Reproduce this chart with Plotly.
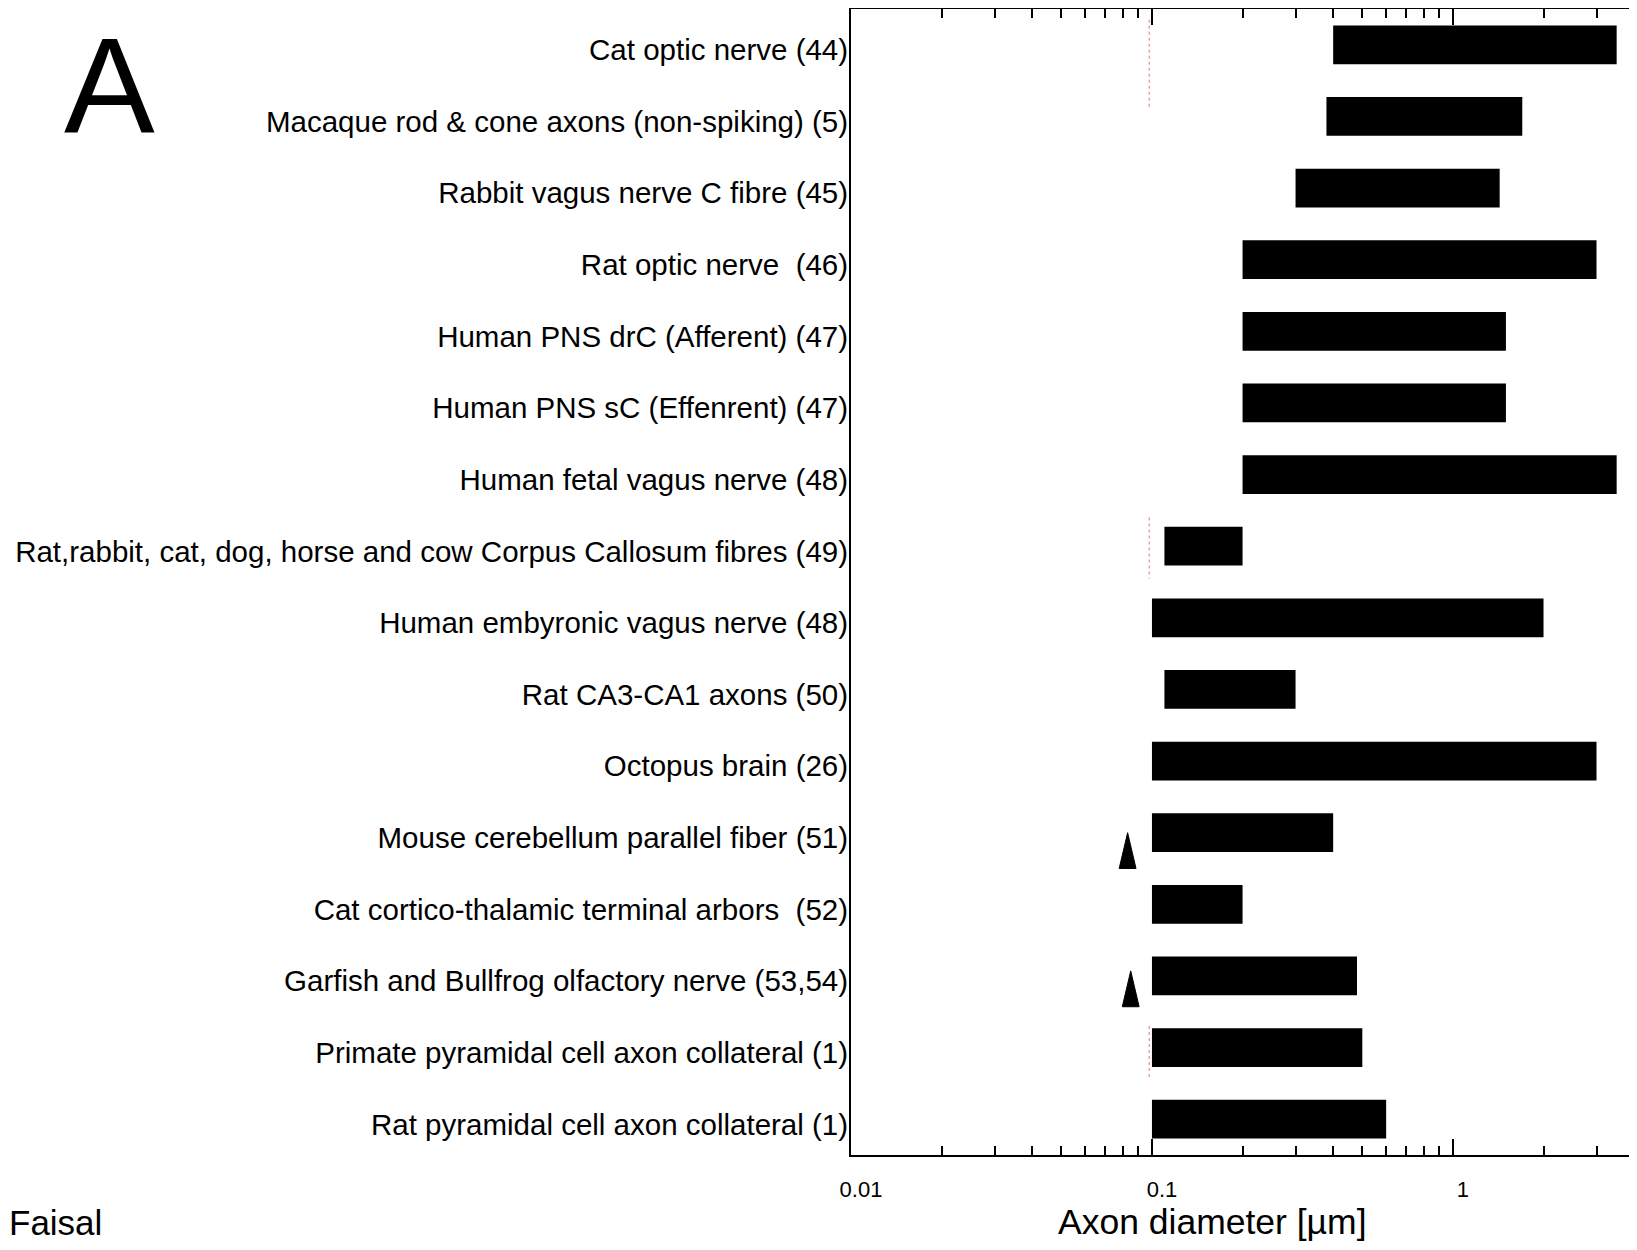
import plotly.graph_objects as go

categories = [
    "Cat optic nerve (44)",
    "Macaque rod & cone axons (non-spiking) (5)",
    "Rabbit vagus nerve C fibre (45)",
    "Rat optic nerve  (46)",
    "Human PNS drC (Afferent) (47)",
    "Human PNS sC (Effenrent) (47)",
    "Human fetal vagus nerve (48)",
    "Rat,rabbit, cat, dog, horse and cow Corpus Callosum fibres (49)",
    "Human embyronic vagus nerve (48)",
    "Rat CA3-CA1 axons (50)",
    "Octopus brain (26)",
    "Mouse cerebellum parallel fiber (51)",
    "Cat cortico-thalamic terminal arbors  (52)",
    "Garfish and Bullfrog olfactory nerve (53,54)",
    "Primate pyramidal cell axon collateral (1)",
    "Rat pyramidal cell axon collateral (1)",
]
min_diam = [0.40, 0.38, 0.30, 0.20, 0.20, 0.20, 0.20, 0.11, 0.10, 0.11, 0.10, 0.10, 0.10, 0.10, 0.10, 0.10]
max_diam = [3.5, 1.7, 1.43, 3.0, 1.5, 1.5, 3.5, 0.2, 2.0, 0.3, 3.0, 0.40, 0.20, 0.48, 0.50, 0.60]

# triangle markers (lower-limit indications)
marker_rows = [11, 13]
marker_x = [0.083, 0.085]

# faint red dotted reference line segments at ~0.1 um (row spans)
ref_x = 0.098
ref_segments = [(-0.35, 0.9), (6.6, 7.45), (13.7, 14.45)]

FONT = "Liberation Sans, Arial, sans-serif"

rows = list(range(len(categories)))
fig = go.Figure()
fig.add_trace(go.Bar(
    y=rows,
    x=[mx - mn for mn, mx in zip(min_diam, max_diam)],
    base=min_diam,
    orientation="h",
    width=0.54,
    marker=dict(color="black", line=dict(width=0)),
    showlegend=False,
))

# tall narrow triangles built from the marker data (half-width in decades, height in rows)
HALF_W = 0.028
TIP_OFF = [0.0, -0.07]
TRI_H = 0.5
for mx, r, off in zip(marker_x, marker_rows, TIP_OFF):
    tip = r + off
    fig.add_trace(go.Scatter(
        x=[mx, mx * 10 ** HALF_W, mx * 10 ** (-HALF_W), mx],
        y=[tip, tip + TRI_H, tip + TRI_H, tip],
        mode="lines",
        fill="toself",
        fillcolor="black",
        line=dict(color="black", width=1),
        showlegend=False,
        hoverinfo="skip",
    ))

for y0, y1 in ref_segments:
    fig.add_shape(type="line", xref="x", yref="y", x0=ref_x, x1=ref_x, y0=y0, y1=y1,
                  line=dict(color="rgba(220,80,80,0.55)", width=1.5, dash="dot"), layer="below")

minor_vals = [m * 10 ** e for e in (-2, -1, 0) for m in range(2, 10)]

fig.update_xaxes(
    type="log",
    range=[-2, 0.605],
    tickmode="array",
    tickvals=[0.01, 0.1, 1],
    ticktext=["0.01", "0.1", "1"],
    ticks="inside",
    ticklen=16,
    tickwidth=2,
    tickcolor="black",
    minor=dict(tickmode="array", tickvals=minor_vals, ticks="inside", ticklen=9, tickwidth=2, tickcolor="black"),
    showline=True,
    linewidth=2,
    linecolor="black",
    mirror="allticks",
    showgrid=False,
    zeroline=False,
    tickfont=dict(family=FONT, size=22, color="black"),
    ticklabelshift=10,
    ticklabelstandoff=14,
    automargin=False,
)
fig.update_yaxes(
    range=[15.5, -0.5],
    tickmode="array",
    tickvals=rows,
    ticktext=categories,
    ticks="",
    showline=True,
    linewidth=2,
    linecolor="black",
    mirror=True,
    showgrid=False,
    zeroline=False,
    tickfont=dict(family=FONT, size=29.5, color="black"),
    ticklabelstandoff=-5,
    ticklabelshift=-5,
    automargin=False,
)

# the page body adds an 8px offset; the figure is sized so it fits the window
OFF = 8
W, H = 1637 - OFF, 1250 - OFF
L, R, T, B = 851 - OFF, 2, 1, 95
PW, PH = W - L - R, H - T - B

def px(page_x):
    return (page_x - OFF - L) / PW

def py(page_y):
    return 1 - (page_y - OFF - T) / PH

fig.add_annotation(text="A", xref="paper", yref="paper", x=px(109), y=py(OFF), xanchor="center", yanchor="top",
                   borderpad=0, showarrow=False, font=dict(family=FONT, size=136, color="black"))
fig.add_annotation(text="Faisal", xref="paper", yref="paper", x=px(OFF), y=py(1222), xanchor="left", yanchor="middle",
                   borderpad=0, showarrow=False, font=dict(family=FONT, size=35, color="black"))
fig.add_annotation(text="Axon diameter [µm]", xref="paper", yref="paper", x=px(1212), y=py(1222), xanchor="center", yanchor="middle",
                   showarrow=False, font=dict(family=FONT, size=35.5, color="black"))

fig.update_layout(
    width=W, height=H,
    margin=dict(l=L, r=R, t=T, b=B, autoexpand=False),
    plot_bgcolor="white",
    paper_bgcolor="white",
    bargap=0.46,
)
fig.write_html("out.html")
